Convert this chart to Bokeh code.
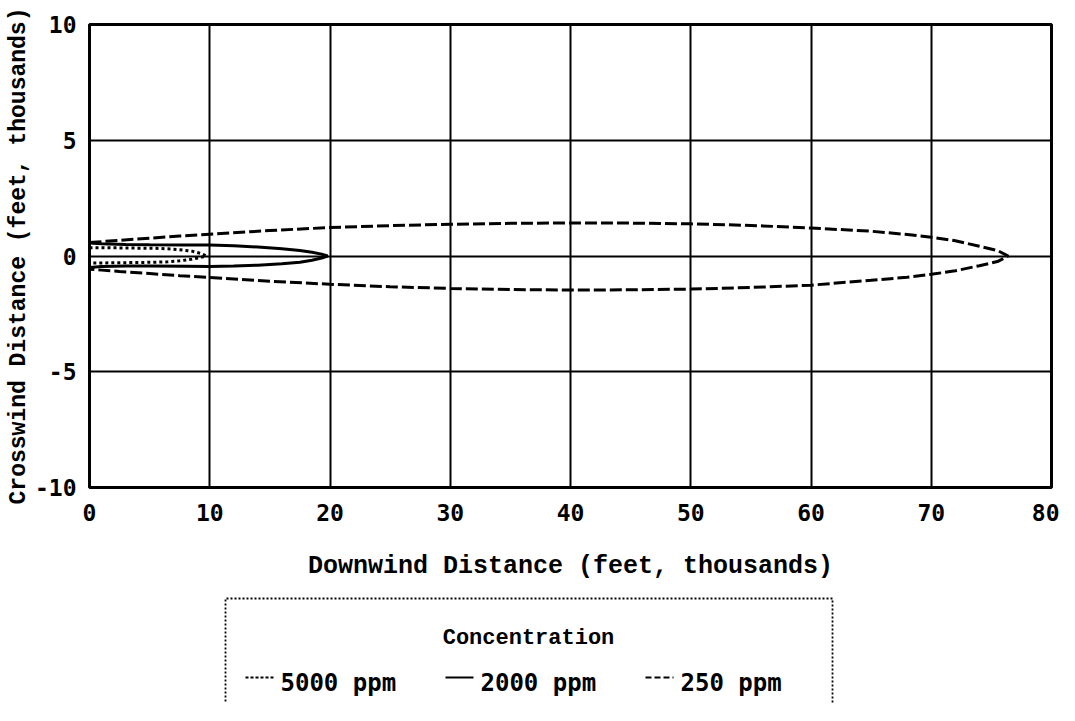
from bokeh.plotting import figure
from bokeh.layouts import column
from bokeh.models import Range1d, FixedTicker
from bokeh.core.properties import value
from bokeh.embed import file_html
from bokeh.resources import INLINE

# ---------------- data (thousands of feet) ----------------
x_ticks = [0, 10, 20, 30, 40, 50, 60, 70, 80]
y_ticks = [-10, -5, 0, 5, 10]
y_tick_labels = {-10: "-10", -5: "-5", 0: "0", 5: "5", 10: "10"}

# 5000 ppm contour
x5000 = [0, 1, 2.5, 4, 5.5, 6.5, 7.5, 8.5, 9.2, 9.7]
up5000 = [0.36, 0.36, 0.35, 0.34, 0.33, 0.31, 0.27, 0.21, 0.12, 0.0]
lo5000 = [-0.30, -0.30, -0.29, -0.28, -0.27, -0.25, -0.21, -0.14, -0.07, 0.0]

# 2000 ppm contour
x2000 = [0, 1, 3, 5, 8, 10, 12, 14, 16, 17.5, 18.5, 19.3, 19.8]
up2000 = [0.56, 0.53, 0.50, 0.49, 0.48, 0.47, 0.44, 0.39, 0.31, 0.24, 0.16, 0.08, 0.0]
lo2000 = [-0.50, -0.45, -0.43, -0.43, -0.44, -0.45, -0.43, -0.40, -0.33, -0.27, -0.18, -0.09, 0.0]

# 250 ppm contour
x250 = [0, 1, 2.5, 5, 7.5, 10, 15, 20, 25, 30, 35, 40, 45, 50, 55, 60, 65, 68, 70, 72, 74, 75.5, 76.4]
up250 = [0.58, 0.62, 0.68, 0.77, 0.86, 0.94, 1.10, 1.23, 1.31, 1.37, 1.41, 1.43, 1.42, 1.39, 1.32, 1.21,
         1.07, 0.93, 0.81, 0.66, 0.42, 0.24, 0.0]
lo250 = [-0.57, -0.61, -0.67, -0.76, -0.85, -0.93, -1.09, -1.22, -1.33, -1.40, -1.45, -1.47, -1.46, -1.43,
         -1.36, -1.26, -1.05, -0.92, -0.79, -0.64, -0.42, -0.24, 0.0]

series_labels = ["5000 ppm", "2000 ppm", "250 ppm"]
legend_title = "Concentration"

# ---------------- main plot ----------------
p = figure(width=1059, height=595, x_range=Range1d(0, 80), y_range=Range1d(-10, 10),
           output_backend="svg", toolbar_location=None,
           min_border_left=89, min_border_right=8, min_border_top=24, min_border_bottom=108)
p.background_fill_color = "white"
p.border_fill_color = "white"
p.outline_line_color = "black"
p.outline_line_width = 3

p.xaxis.ticker = FixedTicker(ticks=x_ticks)
p.yaxis.ticker = FixedTicker(ticks=y_ticks)
p.yaxis.major_label_overrides = y_tick_labels

p.grid.grid_line_color = "black"
p.grid.grid_line_width = 2
p.grid.grid_line_alpha = 1.0

for ax in (p.xaxis[0], p.yaxis[0]):
    ax.axis_line_color = None
    ax.major_tick_line_color = None
    ax.minor_tick_line_color = None
    ax.major_tick_out = 0
    ax.major_tick_in = 0
    ax.minor_tick_out = 0
    ax.minor_tick_in = 0
    ax.major_label_text_font = "DejaVu Sans Mono"
    ax.major_label_text_font_style = "bold"
    ax.major_label_text_font_size = "23px"
    ax.major_label_text_color = "black"
    ax.axis_label_text_font = "Liberation Mono"
    ax.axis_label_text_font_style = "bold"
    ax.axis_label_text_color = "black"

p.xaxis.axis_label = "Downwind Distance (feet, thousands)"
p.yaxis.axis_label = "Crosswind Distance (feet, thousands)"
p.xaxis.axis_label_text_font_size = "25px"
p.yaxis.axis_label_text_font_size = "23px"
p.xaxis.major_label_standoff = 16
p.yaxis.major_label_standoff = 13
p.xaxis.axis_label_standoff = 28
p.yaxis.axis_label_standoff = 0

def contour(xs, up, lo):
    return xs + xs[::-1], up + lo[::-1]

cx, cy = contour(x5000, up5000, lo5000)
p.line(cx, cy, line_color="black", line_width=3, line_dash="3 3")
cx, cy = contour(x2000, up2000, lo2000)
p.line(cx, cy, line_color="black", line_width=3)
cx, cy = contour(x250, up250, lo250)
p.line(cx, cy, line_color="black", line_width=3, line_dash="12 4")

# ---------------- legend panel (data coords = page pixels) ----------------
top_px, bot_px = 603, 711
lg = figure(width=1059, height=bot_px - top_px, x_range=Range1d(97, 1059), y_range=Range1d(bot_px, top_px),
            output_backend="svg", toolbar_location=None,
            x_axis_location=None, y_axis_location=None,
            min_border_left=0, min_border_right=0, min_border_top=0, min_border_bottom=0)
lg.outline_line_color = None
lg.grid.visible = False
lg.background_fill_color = "white"
lg.border_fill_color = "white"

bl, br, bt = 233, 840, 606
lg.line([bl, bl, br, br], [bot_px + 10, bt, bt, bot_px + 10], line_color="black", line_width=1.8, line_dash="2 2")

lg.text(x=[536], y=[646], text=[legend_title], text_font=value("Liberation Mono"),
        text_font_style="bold", text_font_size="22px", text_align="center", text_baseline="middle",
        text_color="black")

sample_x0 = [253, 453, 653]
dashes = ["3 2", "solid", "6 3"]
for sx, lab, d in zip(sample_x0, series_labels, dashes):
    lg.line([sx, sx + 28], [685, 685], line_color="black", line_width=2, line_dash=d)
    lg.text(x=[sx + 35], y=[690], text=[lab], text_font=value("DejaVu Sans Mono"),
            text_font_style="bold", text_font_size="24px", text_align="left", text_baseline="middle",
            text_color="black")

layout = column(p, lg)
open("out.html", "w").write(file_html(layout, INLINE))
